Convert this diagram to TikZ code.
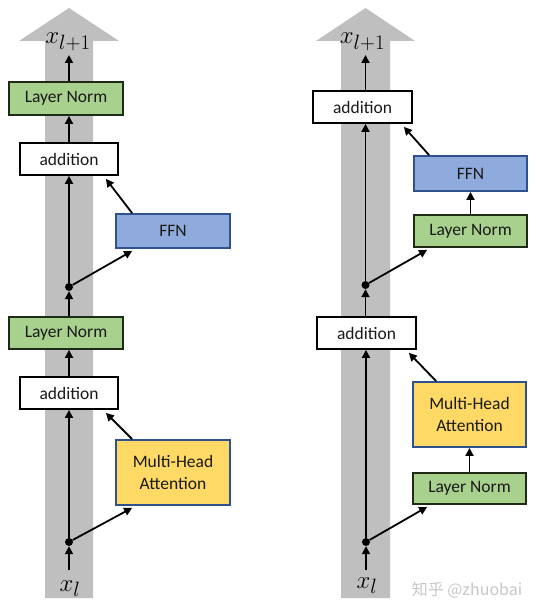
\documentclass[tikz,border=0pt]{standalone}
\usepackage{fontspec}
\setmainfont{Carlito}
\newfontfamily\cjkfont{Noto Sans CJK SC}
\usetikzlibrary{arrows.meta,calc}
\definecolor{bandgray}{HTML}{BFBFBF}
\definecolor{lngreen}{HTML}{A9D18E}
\definecolor{ffnblue}{HTML}{8FAADC}
\definecolor{mhayellow}{HTML}{FFD966}
\definecolor{edgeblue}{HTML}{2F528F}
\definecolor{edgegreen}{HTML}{1E2A16}
\tikzset{
  box/.style={draw, line width=1.8pt, inner sep=0pt, align=center,
    font=\fontsize{17.5}{21}\selectfont, text=black!90},
  addbox/.style={box, fill=white, draw=black, minimum width=98pt, minimum height=32pt},
  lnbox/.style={box, fill=lngreen, draw=edgegreen, minimum width=114pt, minimum height=33pt},
  ffnbox/.style={box, fill=ffnblue, draw=edgeblue, minimum width=114pt, minimum height=34pt},
  mhabox/.style={box, fill=mhayellow, draw=edgeblue, minimum width=114pt, minimum height=65pt},
  conn/.style={line width=1.8pt, -{Triangle[length=8pt,width=8pt]}},
  dotnode/.style={circle, fill=black, inner sep=0pt, minimum size=8pt},
  mathlbl/.style={inner sep=0pt, font=\Huge},
  band/.style={fill=bandgray, draw=none}
}
\begin{document}
\begin{tikzpicture}[x=1pt,y=-1pt]
\useasboundingbox (0,0) rectangle (535,612);
% gray bands
\fill[band] (45,598) -- (45,41) -- (19,41) -- (69,8) -- (119,41) -- (93,41) -- (93,598) -- cycle;
\fill[band] (341,598) -- (341,41) -- (316,41) -- (365.5,8) -- (415,41) -- (390,41) -- (390,598) -- cycle;

% ---------- left (post-LN) ----------
\node[mathlbl, anchor=base] (xoutL) at (68,44) {$x_{l+1}$};
\node[lnbox] (ln1top) at (66,98.5) {Layer Norm};
\node[addbox] (add1top) at (69,159) {addition};
\node[ffnbox] (ffn1) at (173,231) {FFN};
\node[dotnode] (dot1) at (69,287) {};
\node[lnbox, minimum height=32pt] (ln1bot) at (66,333) {Layer Norm};
\node[addbox] (add1bot) at (69,393) {addition};
\node[mhabox] (mha1) at (173,472.5) {Multi-Head\\[1pt]Attention};
\node[dotnode] (dot0) at (69,542) {};
\node[mathlbl, anchor=base] (xinL) at (70,591) {$x_l$};
\coordinate (xinLtop) at (69,570);
\coordinate (xoutLbot) at (69,55);

\draw[conn] (xinLtop) -- (dot0);
\draw[conn] (dot0) -- (add1bot.south -| dot0);
\draw[conn] (dot0) -- ([xshift=17pt,yshift=-2pt]mha1.south west);
\draw[conn] ([xshift=17pt]mha1.north west) -- ([xshift=-13pt,yshift=-3pt]add1bot.south east);
\draw[conn] (add1bot.north -| dot0) -- (ln1bot.south -| dot0);
\draw[conn] (ln1bot.north -| dot0) -- (dot1);
\draw[conn] (dot1) -- (add1top.south -| dot1);
\draw[conn] (dot1) -- ([xshift=17pt,yshift=-2pt]ffn1.south west);
\draw[conn] ([xshift=17pt]ffn1.north west) -- ([xshift=-13pt,yshift=-3pt]add1top.south east);
\draw[conn] (add1top.north -| dot1) -- (ln1top.south -| dot1);
\draw[conn] (ln1top.north -| dot1) -- (xoutLbot);

% ---------- right (pre-LN) ----------
\node[mathlbl, anchor=base] (xoutR) at (362.5,44) {$x_{l+1}$};
\node[addbox, minimum width=99pt] (add2top) at (362.5,107) {addition};
\node[ffnbox, minimum width=113pt, minimum height=35pt] (ffn2) at (470.5,173.5) {FFN};
\node[lnbox, minimum width=113pt, minimum height=32pt] (ln2top) at (470.5,231) {Layer Norm};
\node[dotnode] (dot3) at (365.5,285) {};
\node[addbox, minimum width=99pt] (add2bot) at (366.5,333) {addition};
\node[mhabox, minimum width=113pt] (mha2) at (469.5,414.5) {Multi-Head\\[1pt]Attention};
\node[lnbox, minimum width=113pt, minimum height=31pt] (ln2bot) at (469.5,488.5) {Layer Norm};
\node[dotnode] (dot2) at (366,542) {};
\node[mathlbl, anchor=base] (xinR) at (367,588) {$x_l$};
\coordinate (xinRtop) at (366,570);
\coordinate (xoutRbot) at (365.5,55);

\draw[conn] (xinRtop) -- (dot2);
\draw[conn] (dot2) -- (add2bot.south -| dot2);
\draw[conn] (dot2) -- ([xshift=15pt,yshift=-2pt]ln2bot.south west);
\draw[conn] (ln2bot.north) -- (mha2.south);
\draw[conn] ([xshift=24pt]mha2.north west) -- ([xshift=-8pt,yshift=-3pt]add2bot.south east);
\draw[conn] (add2bot.north -| dot3) -- (dot3);
\draw[conn] (dot3) -- (add2top.south -| dot3);
\draw[conn] (dot3) -- ([xshift=14pt,yshift=-2pt]ln2top.south west);
\draw[conn] (ln2top.north) -- (ffn2.south);
\draw[conn] ([xshift=16pt]ffn2.north west) -- ([xshift=-9pt,yshift=-3pt]add2top.south east);
\draw[conn] (add2top.north -| dot3) -- (xoutRbot);

% watermark
\node[inner sep=0pt, text=black!22, font=\cjkfont\fontsize{16}{16}\selectfont] (wm) at (467,590) {知乎 @zhuobai};
\end{tikzpicture}
\end{document}
